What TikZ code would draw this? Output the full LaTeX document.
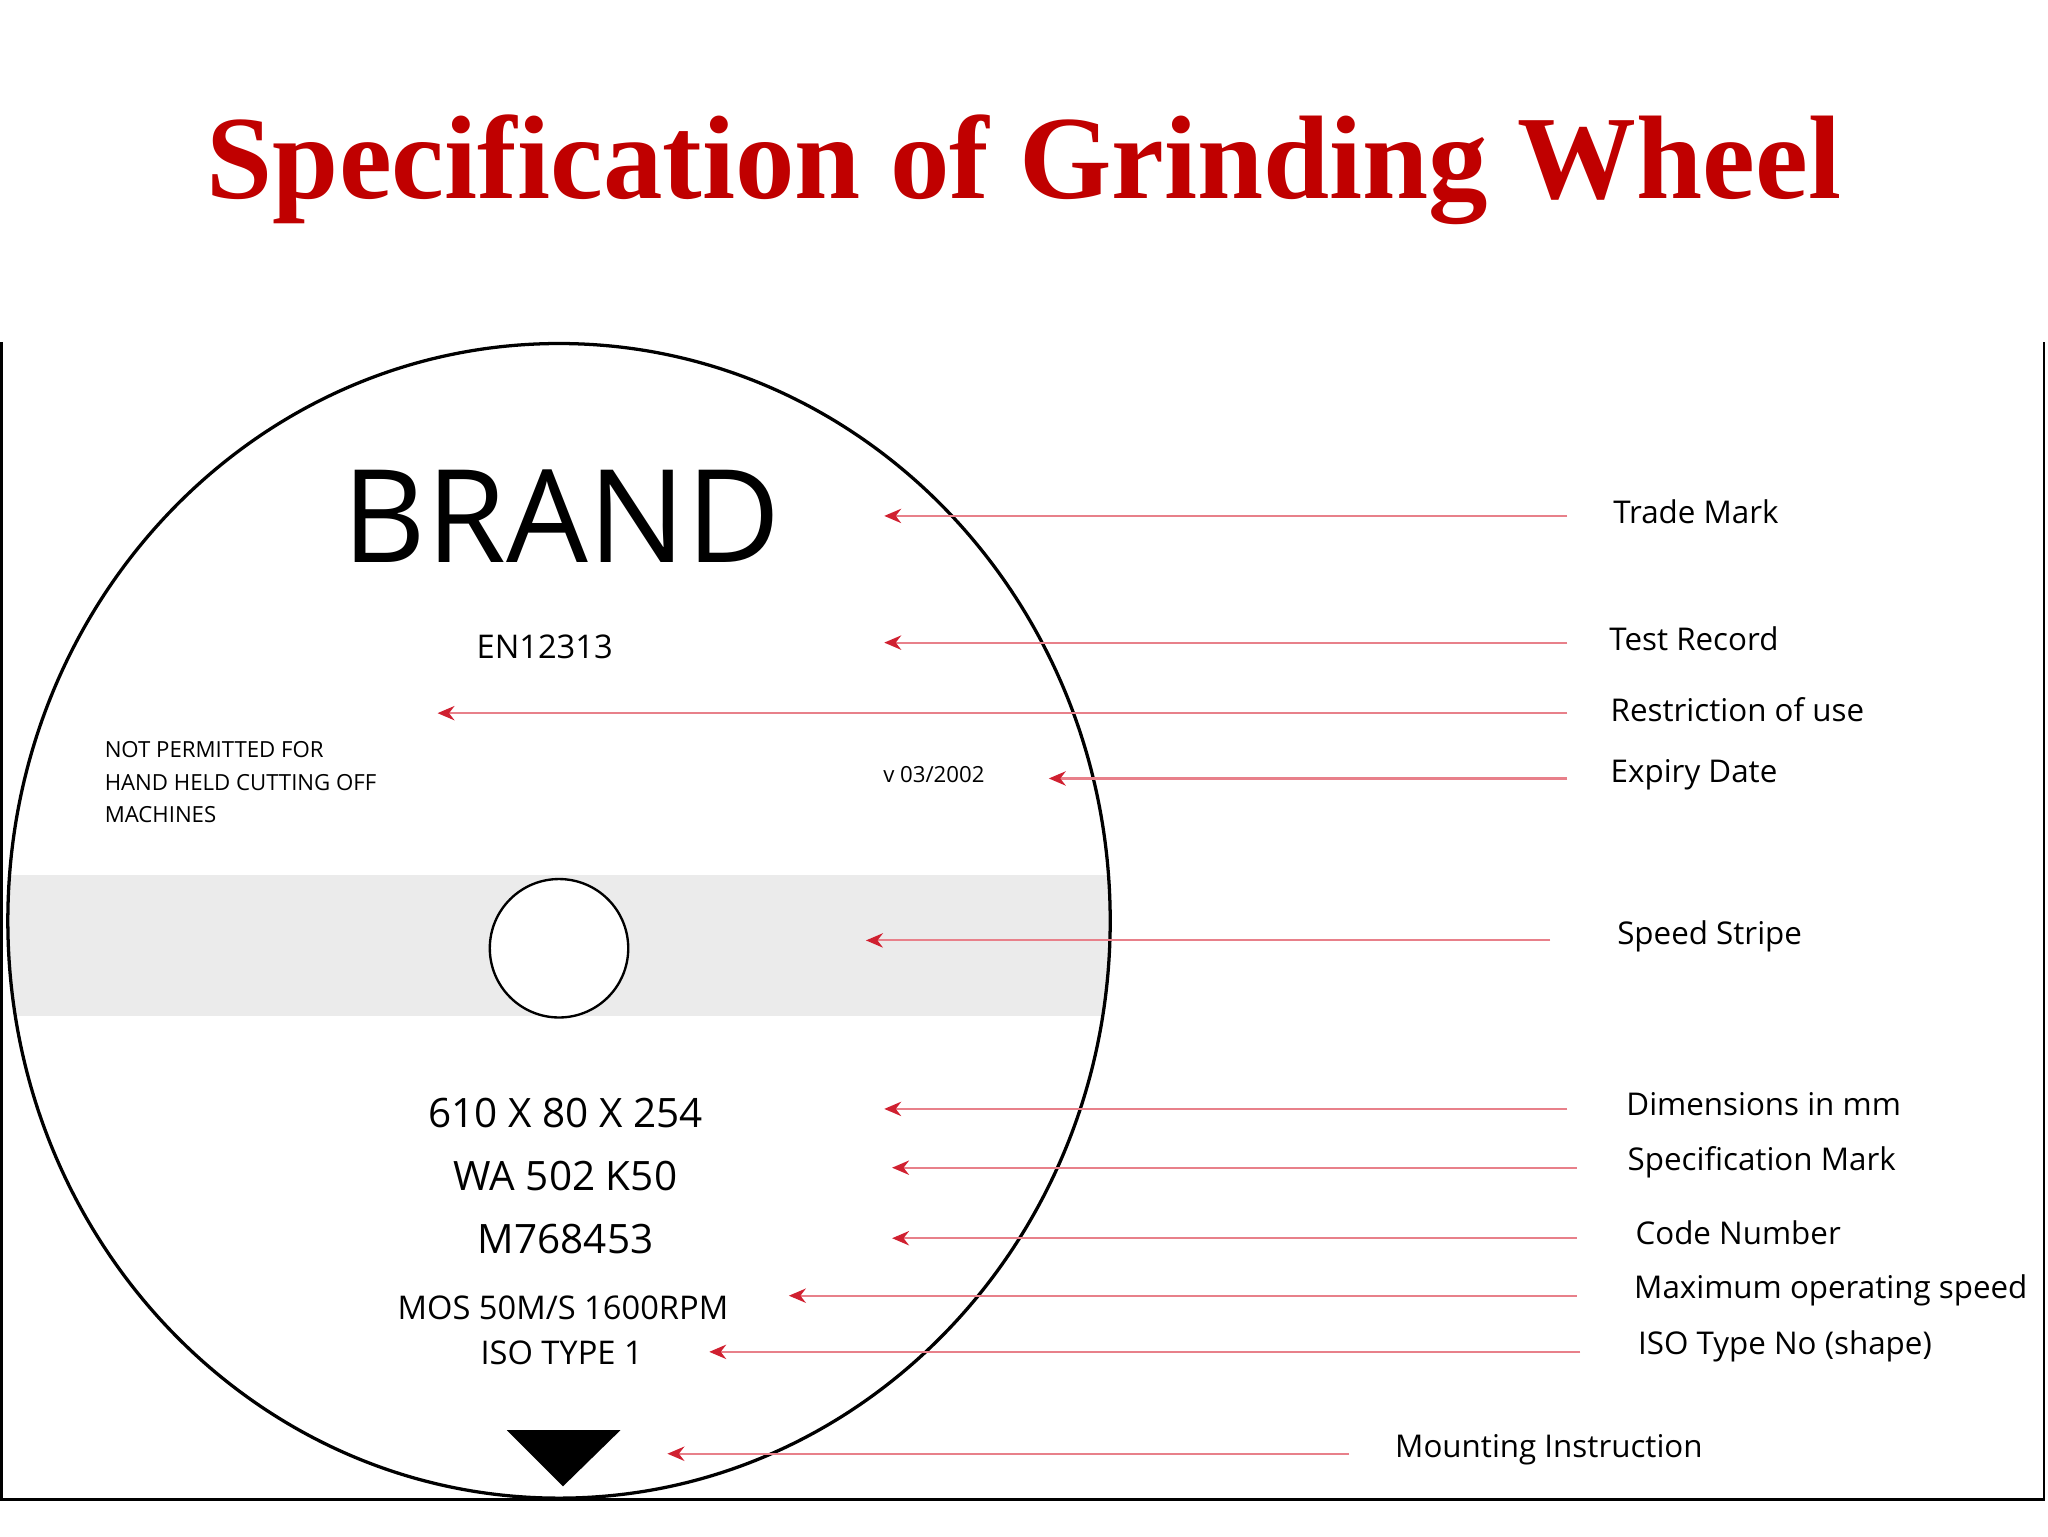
\documentclass[tikz,border=0pt]{standalone}
\usepackage{fontspec}
\setmainfont{Liberation Serif}
\newfontfamily\lab{Open Sans}
\definecolor{ttl}{HTML}{C00000}
\definecolor{ln}{HTML}{E8808A}
\definecolor{tip}{HTML}{D02030}
\definecolor{stripe}{HTML}{EBEBEB}
\usetikzlibrary{arrows.meta}
\tikzset{
 lbl/.style={anchor=west,font=\lab\fontsize{24}{28}\selectfont,inner sep=0pt},
 wtxt/.style={font=\lab\fontsize{30}{34}\selectfont,inner sep=0pt},
 arr/.style={draw=ln,line width=1.6pt,-{Stealth[length=13pt,width=11pt,color=tip]}}
}
\begin{document}
\begin{tikzpicture}[x=1pt,y=-1pt]
\useasboundingbox (0,0) rectangle (1568,1176);
\node[font=\bfseries\fontsize{91}{96}\selectfont,text=ttl] (title) at (784,130) {Specification of Grinding Wheel};
% frame
\draw[line width=2pt] (1,262) -- (1,1148) -- (1565,1148) -- (1565,262);
% wheel
\begin{scope}
\clip (428,705) ellipse [x radius=422, y radius=442];
\fill[stripe] (0,670) rectangle (860,778);
\end{scope}
\draw[line width=2.5pt] (428,705) ellipse [x radius=422, y radius=442];
\draw[line width=1.8pt,fill=white] (428,726) circle (53);
\node[font=\lab\fontsize{99}{110}\selectfont,inner sep=0pt] (brand) at (430,395) {BRAND};
\node[wtxt,font=\lab\fontsize{25}{30}\selectfont] (en) at (417,495) {EN12313};
\node[anchor=west,inner sep=0pt,align=left,font=\lab\fontsize{17}{25}\selectfont] (np) at (80,599) {NOT PERMITTED FOR\\HAND HELD CUTTING OFF\\MACHINES};
\node[inner sep=0pt,font=\lab\fontsize{17}{20}\selectfont] (v) at (715,593) {v 03/2002};
\node[wtxt,font=\lab\fontsize{31}{36}\selectfont] (dim) at (433,852) {610 X 80 X 254};
\node[wtxt,font=\lab\fontsize{31}{36}\selectfont] (wa) at (433,900) {WA 502 K50};
\node[wtxt,font=\lab\fontsize{31}{36}\selectfont] (m) at (433,949) {M768453};
\node[wtxt,font=\lab\fontsize{25}{30}\selectfont] (mos) at (431,1001) {MOS 50M/S 1600RPM};
\node[wtxt,font=\lab\fontsize{25}{30}\selectfont] (iso) at (430,1036) {ISO TYPE 1};
\fill (388,1095) -- (475,1095) -- (431,1138) -- cycle;
% labels
\node[lbl] (l1) at (1235,392) {Trade Mark};
\node[lbl] (l2) at (1232,489) {Test Record};
\node[lbl] (l3) at (1233,543) {Restriction of use};
\node[lbl] (l4) at (1233,593) {Expiry Date};
\node[lbl] (l5) at (1238,717) {Speed Stripe};
\node[lbl] (l6) at (1245,845) {Dimensions in mm};
\node[lbl] (l7) at (1246,890) {Specification Mark};
\node[lbl] (l8) at (1252,944) {Code Number};
\node[lbl] (l9) at (1251,988) {Maximum operating speed};
\node[lbl] (l10) at (1254,1031) {ISO Type No (shape)};
\node[lbl] (l11) at (1068,1110) {Mounting Instruction};
% arrows
\foreach \n/\xs/\xe/\y in {1/1200/677/395, 2/1200/677/492, 3/1200/335/546, 4/1200/803/596, 5/1187/663/720, 6/1200/677/849, 7/1207/683/894, 8/1207/683/948, 9/1207/604/992, 10/1210/543/1035, 11/1033/511/1113}{
 \coordinate (s\n) at (\xs,\y);
 \coordinate (e\n) at (\xe,\y);
 \draw[arr] (s\n) -- (e\n);
}
\end{tikzpicture}
\end{document}
